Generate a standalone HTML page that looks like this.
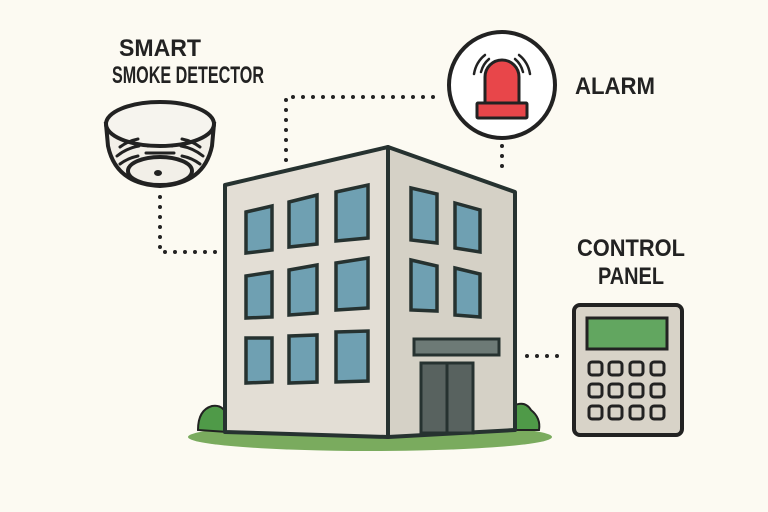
<!DOCTYPE html>
<html><head><style>body{margin:0;background:#fcfaf2}svg{display:block}text{font-family:"Liberation Sans",sans-serif;font-weight:bold;fill:#222}</style></head>
<body>
<svg width="768" height="512" viewBox="0 0 768 512">
<rect width="768" height="512" fill="#fcfaf2"/>
<g fill="#222">
<text x="160" y="56" font-size="24" text-anchor="middle" textLength="82" lengthAdjust="spacingAndGlyphs">SMART</text>
<text x="188" y="83" font-size="24" text-anchor="middle" textLength="152" lengthAdjust="spacingAndGlyphs">SMOKE DETECTOR</text>
<text x="575" y="94" font-size="24" textLength="80" lengthAdjust="spacingAndGlyphs">ALARM</text>
<text x="631" y="256" font-size="24" text-anchor="middle" textLength="108" lengthAdjust="spacingAndGlyphs">CONTROL</text>
<text x="631" y="284" font-size="24" text-anchor="middle" textLength="66" lengthAdjust="spacingAndGlyphs">PANEL</text>
</g>
<g stroke="#222" stroke-width="4" stroke-linecap="round" stroke-dasharray="0 10" fill="none">
<path d="M160 197 V252 H218"/>
<path d="M286 160 V97 H440"/>
<path d="M502 146 V172"/>
<path d="M527 356 H560"/>
</g>
<ellipse cx="370" cy="437" rx="182" ry="14" fill="#7aab5e"/>
<path d="M198 430 q0-20 14-24 q12-2 16 12 v14z" fill="#4f9a48" stroke="#222" stroke-width="2"/>
<path d="M513 430 v-24 q12-6 18 4 q10 8 8 20z" fill="#4f9a48" stroke="#222" stroke-width="2"/>
<path d="M225 185 L388 147 L388 437 L225 432Z" fill="#e3ded5" stroke="#263230" stroke-width="4" stroke-linejoin="round"/>
<path d="M388 147 L515 192 L515 430 L388 437Z" fill="#d5d1c6" stroke="#263230" stroke-width="4" stroke-linejoin="round"/>
<g fill="#6fa0b2" stroke="#263230" stroke-width="3.5">
<path d="M246 212 L272 206 L272 250 L246 253Z"/>
<path d="M289 202 L317 195 L317 244 L289 247Z"/>
<path d="M336 192 L368 185 L368 238 L336 241Z"/>
<path d="M246 276 L272 272 L272 317 L246 318Z"/>
<path d="M289 270 L317 265 L317 313 L289 315Z"/>
<path d="M336 263 L368 258 L368 308 L336 310Z"/>
<path d="M246 338 L272 338 L272 382 L246 383Z"/>
<path d="M289 336 L317 335 L317 382 L289 383Z"/>
<path d="M336 332 L368 331 L368 381 L336 382Z"/>
<path d="M411 188 L437 194 L437 243 L411 240Z"/>
<path d="M455 203 L480 210 L480 252 L455 248Z"/>
<path d="M411 260 L437 266 L437 311 L411 310Z"/>
<path d="M455 268 L480 274 L480 317 L455 315Z"/>
</g>
<rect x="414" y="339" width="85" height="16" fill="#6d7a76" stroke="#263230" stroke-width="3"/>
<rect x="421" y="363" width="52" height="70" fill="#58625f" stroke="#263230" stroke-width="3"/>
<line x1="447" y1="363" x2="447" y2="433" stroke="#263230" stroke-width="3"/>
<g stroke="#222" stroke-width="4" fill="#f2efe8">
<path d="M106 124 L108 146 Q116 184 160 186 Q204 184 212 146 L214 124Z"/>
<ellipse cx="160" cy="124" rx="54" ry="22" fill="#f6f4ee"/>
<ellipse cx="160" cy="171" rx="32" ry="14"/>
</g>
<g stroke="#222" stroke-width="3" stroke-linecap="round" fill="none">
<path d="M148 146 H172 M146 153 H174"/>
<path d="M120 147 q8-6 18-8 M117 156 q10-8 22-10 M120 164 q8-6 18-8"/>
<path d="M200 147 q-8-6 -18-8 M203 156 q-10-8 -22-10 M200 164 q-8-6 -18-8"/>
</g>
<ellipse cx="158" cy="173" rx="4" ry="3" fill="#222"/>
<circle cx="502" cy="85" r="53" fill="#fff" stroke="#222" stroke-width="4"/>
<path d="M485 103 V77 a17 17 0 0 1 34 0 V103Z" fill="#e8464a" stroke="#222" stroke-width="3"/>
<rect x="477" y="103" width="50" height="15" rx="1" fill="#e8464a" stroke="#222" stroke-width="3"/>
<g stroke="#222" stroke-width="2.5" fill="none" stroke-linecap="round">
<path d="M481 72 q2-8 8-13 M474 74 q2-12 11-19"/>
<path d="M523 72 q-2-8 -8-13 M530 74 q-2-12 -11-19"/>
</g>
<rect x="574" y="305" width="108" height="130" rx="6" fill="#d8d3c8" stroke="#222" stroke-width="4"/>
<rect x="587" y="318" width="80" height="31" fill="#62a660" stroke="#222" stroke-width="3"/>
<g fill="#d8d3c8" stroke="#222" stroke-width="3">
<rect x="589" y="362" width="13" height="13" rx="3"/><rect x="609" y="362" width="13" height="13" rx="3"/><rect x="630" y="362" width="13" height="13" rx="3"/><rect x="651" y="362" width="13" height="13" rx="3"/>
<rect x="589" y="384" width="13" height="13" rx="3"/><rect x="609" y="384" width="13" height="13" rx="3"/><rect x="630" y="384" width="13" height="13" rx="3"/><rect x="651" y="384" width="13" height="13" rx="3"/>
<rect x="589" y="406" width="13" height="13" rx="3"/><rect x="609" y="406" width="13" height="13" rx="3"/><rect x="630" y="406" width="13" height="13" rx="3"/><rect x="651" y="406" width="13" height="13" rx="3"/>
</g>
</svg>
</body></html>
